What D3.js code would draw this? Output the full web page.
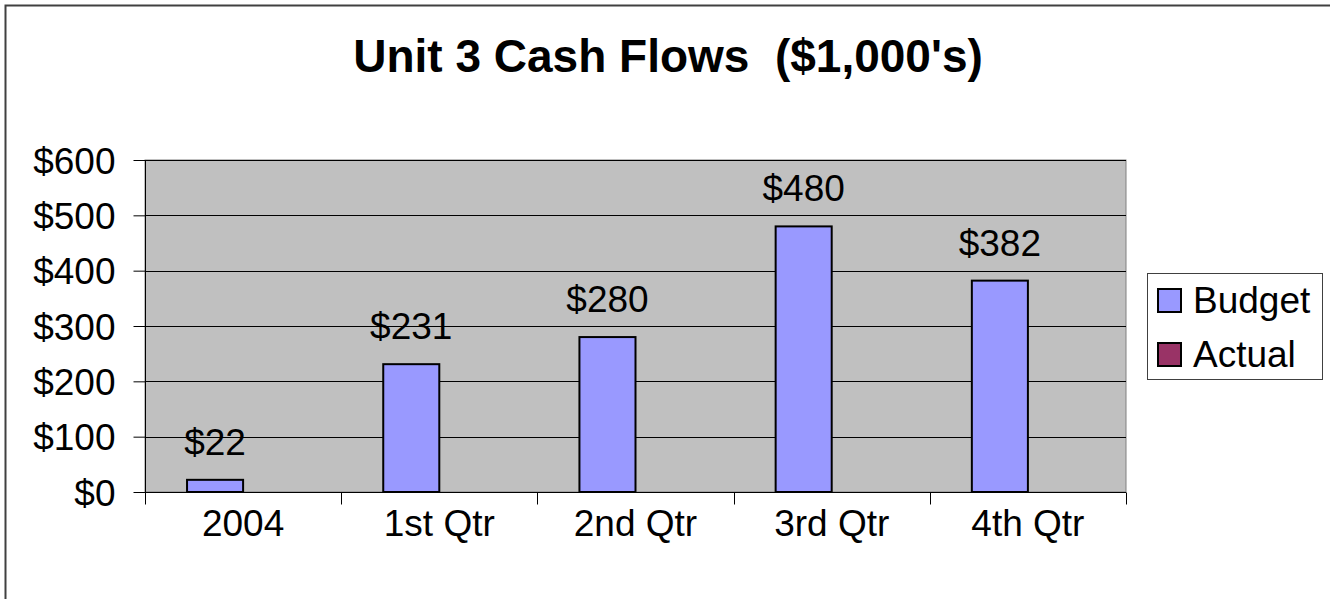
<!DOCTYPE html>
<html>
<head>
<meta charset="utf-8">
<script src="https://cdn.jsdelivr.net/npm/d3@7"></script>
<style>
    html, body { margin: 0; background: #fff; overflow: hidden; }
    svg { display: block; }
    svg text { font-family: "Liberation Sans", Arial, sans-serif; fill: #000; }
</style>
</head>
<body>
<div id="chart"></div>
<script>
// chart data
const categories = ["2004", "1st Qtr", "2nd Qtr", "3rd Qtr", "4th Qtr"];
const seriesNames = ["Budget", "Actual"];
const budgetValues = [22, 231, 280, 480, 382];
const actualValues = [0, 0, 0, 0, 0];
const yTicks = [0, 100, 200, 300, 400, 500, 600];
const seriesColors = ["#9999FF", "#993366"];

const W = 1330, H = 599;
const plot = {left: 145, right: 1126, top: 160, bottom: 492};
const fontSize = "37px";

let svg = d3.select("#chart").append("svg")
    .attr("width", W)
    .attr("height", H);

// outer chart border (only top/left visible in frame)
svg.append("rect")
    .attr("x", 5.5).attr("y", 5.5)
    .attr("width", W + 20).attr("height", H + 20)
    .attr("fill", "#fff")
    .attr("stroke", "#404040")
    .attr("stroke-width", 2);

// title
svg.append("text")
    .attr("x", 668)
    .attr("y", 72)
    .attr("text-anchor", "middle")
    .attr("font-size", "46px")
    .attr("font-weight", "bold")
    .style("white-space", "pre")
    .text("Unit 3 Cash Flows  ($1,000's)");

// scales
let x = d3.scaleBand()
    .domain(categories)
    .range([plot.left, plot.right])
    .paddingInner(0)
    .paddingOuter(0);

// gap width 150% -> 0.75 bar width on each side
let xSeries = d3.scaleBand()
    .domain(seriesNames)
    .range([0, x.bandwidth()])
    .paddingInner(0)
    .paddingOuter(0.75);

let y = d3.scaleLinear()
    .domain([0, 600])
    .range([plot.bottom, plot.top]);

// plot area
svg.append("rect")
    .attr("x", plot.left).attr("y", plot.top)
    .attr("width", plot.right - plot.left)
    .attr("height", plot.bottom - plot.top)
    .attr("fill", "#C0C0C0")
    .attr("stroke", "#808080")
    .attr("stroke-width", 1);

// gridlines
svg.append("g").selectAll("line")
    .data(yTicks.filter(d => d > 0))
    .join("line")
    .attr("x1", plot.left).attr("x2", plot.right)
    .attr("y1", d => Math.round(y(d)) + 0.5)
    .attr("y2", d => Math.round(y(d)) + 0.5)
    .attr("stroke", "#000")
    .attr("stroke-width", 1);

// y axis
let yAxis = d3.axisLeft(y)
    .tickValues(yTicks)
    .tickSize(12)
    .tickPadding(18)
    .tickFormat(d => "$" + d);

let yAxisGroup = svg.append("g")
    .attr("transform", `translate(${plot.left + 0.5}, 0)`)
    .call(yAxis);
yAxisGroup.selectAll("text").attr("font-size", fontSize).attr("dy", "0.36em");
yAxisGroup.selectAll("line").attr("stroke", "#000");
yAxisGroup.select(".domain").attr("stroke", "#000").attr("d", `M0,${plot.top}V${plot.bottom}`);

// x axis
let xAxisGroup = svg.append("g")
    .attr("transform", `translate(0, ${plot.bottom + 0.5})`);
xAxisGroup.append("line")
    .attr("x1", plot.left).attr("x2", plot.right)
    .attr("stroke", "#000");
xAxisGroup.selectAll(".tick-mark")
    .data(d3.range(categories.length + 1))
    .join("line")
    .attr("class", "tick-mark")
    .attr("x1", i => Math.round(plot.left + i * x.step()) + 0.5)
    .attr("x2", i => Math.round(plot.left + i * x.step()) + 0.5)
    .attr("y1", 0).attr("y2", 12)
    .attr("stroke", "#000");
xAxisGroup.selectAll(".cat-label")
    .data(categories)
    .join("text")
    .attr("class", "cat-label")
    .attr("x", d => x(d) + x.bandwidth() / 2)
    .attr("y", 43)
    .attr("text-anchor", "middle")
    .attr("font-size", fontSize)
    .text(d => d);

// bars
let barData = [];
categories.forEach((c, i) => {
    barData.push({cat: c, series: "Budget", value: budgetValues[i], color: seriesColors[0]});
    barData.push({cat: c, series: "Actual", value: actualValues[i], color: seriesColors[1]});
});

svg.append("g").selectAll("rect")
    .data(barData.filter(d => d.value > 0))
    .join("rect")
    .attr("x", d => x(d.cat) + xSeries(d.series))
    .attr("y", d => y(d.value))
    .attr("width", xSeries.bandwidth())
    .attr("height", d => y(0) - y(d.value))
    .attr("fill", d => d.color)
    .attr("stroke", "#000")
    .attr("stroke-width", 2);

// data labels
svg.append("g").selectAll("text")
    .data(barData.filter(d => d.series === "Budget"))
    .join("text")
    .attr("x", d => x(d.cat) + xSeries(d.series) + xSeries.bandwidth() / 2)
    .attr("y", d => y(d.value) - 25)
    .attr("text-anchor", "middle")
    .attr("font-size", fontSize)
    .text(d => "$" + d.value);

// legend
let legend = svg.append("g");
legend.append("rect")
    .attr("x", 1147.5).attr("y", 273.5)
    .attr("width", 175).attr("height", 106)
    .attr("fill", "#fff")
    .attr("stroke", "#404040")
    .attr("stroke-width", 1);

let legendItems = legend.selectAll(".legend-item")
    .data(seriesNames)
    .join("g")
    .attr("class", "legend-item")
    .attr("transform", (d, i) => `translate(1158, ${289 + i * 54})`);
legendItems.append("rect")
    .attr("width", 23).attr("height", 23)
    .attr("fill", (d, i) => seriesColors[i])
    .attr("stroke", "#000")
    .attr("stroke-width", 2);
legendItems.append("text")
    .attr("x", 35)
    .attr("y", 24)
    .attr("font-size", fontSize)
    .text(d => d);
</script>
</body>
</html>
